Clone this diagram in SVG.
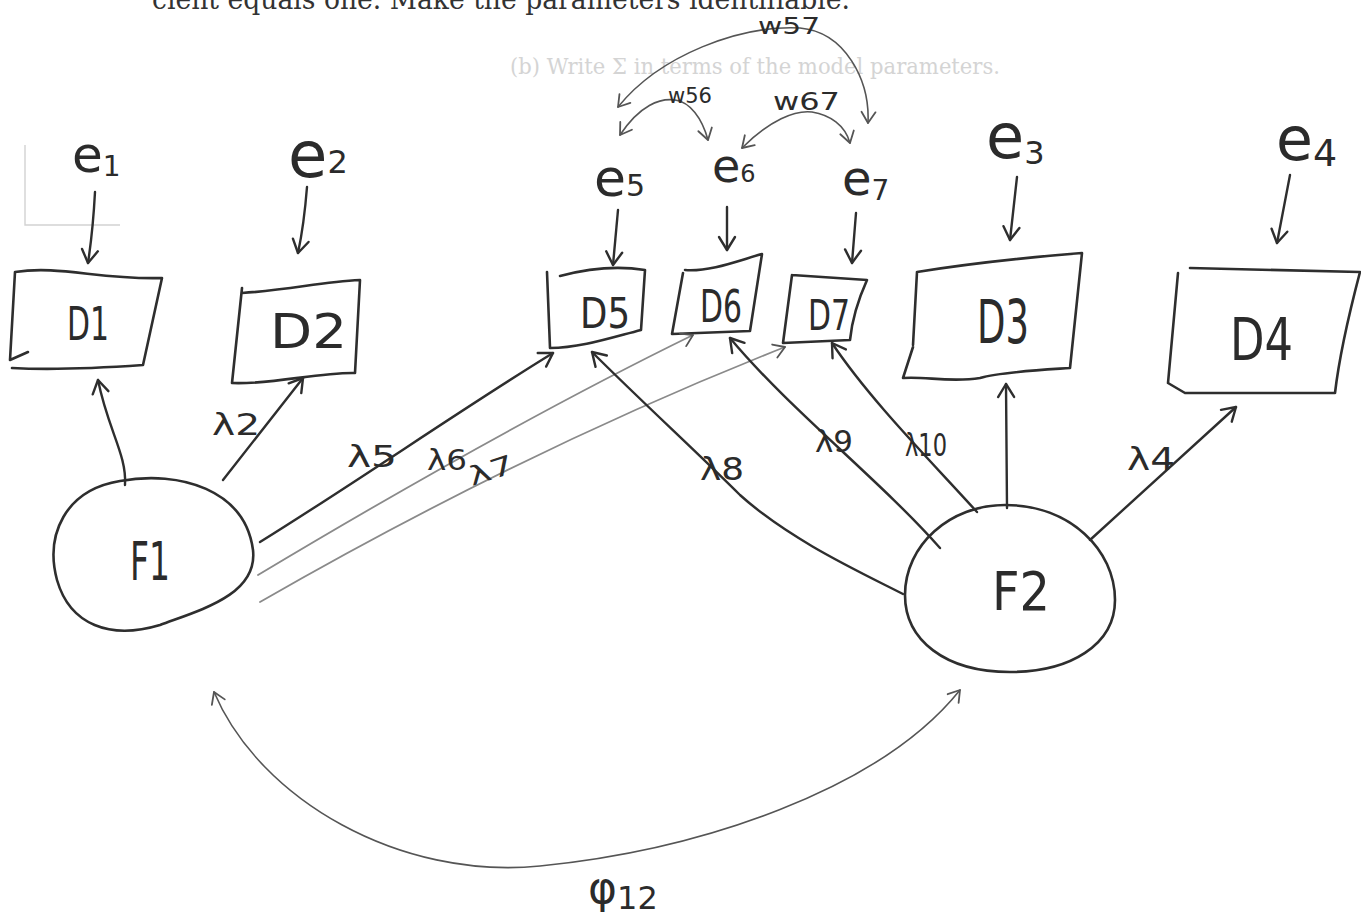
<svg xmlns="http://www.w3.org/2000/svg" width="1361" height="915" viewBox="0 0 1361 915">
<style>
.hw{font-family:"DejaVu Sans","Liberation Sans",sans-serif;fill:#2b2b2b}
.pr{font-family:"DejaVu Serif","Liberation Serif",serif;fill:#333}
.ln{fill:none;stroke:#2e2e2e;stroke-width:2.4;stroke-linecap:round;stroke-linejoin:round}
.thin{fill:none;stroke:#555;stroke-width:1.6;stroke-linecap:round}
.pale{fill:none;stroke:#8a8a8a;stroke-width:1.8;stroke-linecap:round}
.box{fill:none;stroke:#2e2e2e;stroke-width:2.6;stroke-linejoin:round;stroke-linecap:round}
.faint{fill:none;stroke:#d2d2d2;stroke-width:1.4}
</style>
<defs>
<marker id="ah" viewBox="-16 -10 20 20" markerWidth="20" markerHeight="20" refX="0" refY="0" orient="auto-start-reverse" markerUnits="userSpaceOnUse">
<path d="M-13,-8 L0,0 L-13,8" fill="none" stroke="#2e2e2e" stroke-width="2.4" stroke-linecap="round" stroke-linejoin="round"/>
</marker>
<marker id="ahs" viewBox="-16 -10 20 20" markerWidth="20" markerHeight="20" refX="0" refY="0" orient="auto-start-reverse" markerUnits="userSpaceOnUse">
<path d="M-11,-7 L0,0 L-11,7" fill="none" stroke="#555" stroke-width="1.8" stroke-linecap="round" stroke-linejoin="round"/>
</marker>
</defs>
<rect width="1361" height="915" fill="#ffffff"/>

<text class="pr" x="152" y="9" font-size="28" textLength="698" lengthAdjust="spacingAndGlyphs">cient equals one.  Make the parameters identifiable.</text>
<text x="510" y="74" font-size="22" fill="#d4d4d4" font-family="DejaVu Serif, serif" textLength="490" lengthAdjust="spacingAndGlyphs">(b)  Write Σ in terms of the model parameters.</text>
<path class="faint" d="M25,145 L25,225 L120,225"/>

<g id="e1"><text class="hw" x="72" y="172" font-size="50">e<tspan font-size="28" dy="4">1</tspan></text></g>
<g id="e2"><text class="hw" x="288" y="177" font-size="64">e<tspan font-size="32" dy="-4">2</tspan></text></g>
<g id="e5"><text class="hw" x="594" y="196" font-size="52">e<tspan font-size="30">5</tspan></text></g>
<g id="e6"><text class="hw" x="712" y="182" font-size="46">e<tspan font-size="24">6</tspan></text></g>
<g id="e7"><text class="hw" x="842" y="195" font-size="48">e<tspan font-size="28" dy="5">7</tspan></text></g>
<g id="e3"><text class="hw" x="986" y="158" font-size="62">e<tspan font-size="32" dy="6">3</tspan></text></g>
<g id="e4"><text class="hw" x="1276" y="160" font-size="60">e<tspan font-size="38" dy="6">4</tspan></text></g>

<g id="D1"><path class="box" d="M15,272 C60,265 100,280 162,278 L143,365 C100,368 50,370 12,368 M15,272 L10,360 L28,352"/><text class="hw" x="67" y="340" font-size="46" textLength="42" lengthAdjust="spacingAndGlyphs">D1</text></g>
<g id="D2"><path class="box" d="M242,293 C290,290 320,282 360,280 L355,373 C320,372 270,385 232,383 L242,288"/><text class="hw" x="270" y="348" font-size="48" textLength="77" lengthAdjust="spacingAndGlyphs">D2</text></g>
<g id="D5"><path class="box" d="M560,276 C590,268 620,266 645,270 L641,330 C610,338 580,348 550,348 L547,272"/><text class="hw" x="580" y="328" font-size="42" textLength="50" lengthAdjust="spacingAndGlyphs">D5</text></g>
<g id="D6"><path class="box" d="M685,270 C710,272 740,260 762,254 L750,331 L672,334 L683,273"/><text class="hw" x="700" y="322" font-size="44" textLength="42" lengthAdjust="spacingAndGlyphs">D6</text></g>
<g id="D7"><path class="box" d="M792,275 L867,280 C858,300 852,320 850,340 L783,343 L792,275"/><text class="hw" x="808" y="330" font-size="42" textLength="42" lengthAdjust="spacingAndGlyphs">D7</text></g>
<g id="D3"><path class="box" d="M917,272 C960,265 1020,258 1082,253 L1070,368 C1040,370 1000,372 980,378 C950,383 925,376 903,378 L913,347 M917,272 L913,345"/><text class="hw" x="977" y="343" font-size="60" textLength="52" lengthAdjust="spacingAndGlyphs">D3</text></g>
<g id="D4"><path class="box" d="M1190,268 L1360,272 C1350,310 1340,350 1335,393 L1185,393 L1168,383 L1178,273"/><text class="hw" x="1230" y="360" font-size="58" textLength="63" lengthAdjust="spacingAndGlyphs">D4</text></g>

<g id="F1"><path class="box" d="M120,481 C180,470 245,490 253,550 C258,595 200,610 160,625 C110,640 70,625 57,580 C45,535 65,490 120,481 Z" stroke-width="2.2"/><text class="hw" x="130" y="580" font-size="54" textLength="40" lengthAdjust="spacingAndGlyphs">F1</text></g>
<g id="F2"><path class="box" d="M1005,505 C1070,505 1115,550 1115,600 C1115,645 1070,672 1010,672 C945,672 905,640 905,595 C905,545 950,505 1005,505 Z" stroke-width="2.2"/><text class="hw" x="992" y="610" font-size="54" textLength="58" lengthAdjust="spacingAndGlyphs">F2</text></g>

<g id="connectors">
<path class="ln" marker-end="url(#ah)" d="M95,192 Q93,230 88,263"/>
<path class="ln" marker-end="url(#ah)" d="M307,187 Q304,225 298,253"/>
<path class="ln" marker-end="url(#ah)" d="M618,210 L613,265"/>
<path class="ln" marker-end="url(#ah)" d="M727,207 L727,250"/>
<path class="ln" marker-end="url(#ah)" d="M856,213 L852,263"/>
<path class="ln" marker-end="url(#ah)" d="M1017,177 L1010,240"/>
<path class="ln" marker-end="url(#ah)" d="M1290,175 L1277,243"/>
<path class="ln" marker-end="url(#ah)" d="M125,485 C127,455 108,430 98,380"/>
<path class="ln" marker-end="url(#ah)" d="M223,480 L303,378"/>
<path class="ln" marker-end="url(#ah)" d="M260,542 C360,480 460,410 553,353"/>
<path class="pale" marker-end="url(#ahs)" d="M258,575 C400,490 560,400 693,335"/>
<path class="pale" marker-end="url(#ahs)" d="M260,602 C420,510 600,420 785,347"/>
<path class="ln" marker-end="url(#ah)" d="M903,594 C860,572 790,540 740,495 C700,455 640,400 592,352"/>
<path class="ln" marker-end="url(#ah)" d="M940,548 C880,480 790,410 730,338"/>
<path class="ln" marker-end="url(#ah)" d="M977,512 C930,460 870,400 832,343"/>
<path class="ln" marker-end="url(#ah)" d="M1007,508 L1006,384"/>
<path class="ln" marker-end="url(#ah)" d="M1090,540 L1236,407"/>
<path class="thin" marker-start="url(#ahs)" marker-end="url(#ahs)" d="M620,135 C640,105 660,98 675,100 C690,102 702,118 708,140"/>
<path class="thin" marker-start="url(#ahs)" marker-end="url(#ahs)" d="M742,148 C770,120 795,110 812,112 C830,115 845,125 850,143"/>
<path class="thin" marker-start="url(#ahs)" marker-end="url(#ahs)" d="M618,107 C660,55 740,25 800,28 C845,32 870,80 868,123"/>
<path class="thin" marker-start="url(#ahs)" marker-end="url(#ahs)" d="M214,692 C260,800 400,880 540,866 C700,850 880,790 960,690"/>
</g>

<g id="labels">
<text class="hw" x="212" y="435" font-size="30" textLength="48" lengthAdjust="spacingAndGlyphs">λ2</text>
<text class="hw" x="347" y="467" font-size="30" textLength="50" lengthAdjust="spacingAndGlyphs">λ5</text>
<text class="hw" x="427" y="470" font-size="28" textLength="40" lengthAdjust="spacingAndGlyphs">λ6</text>
<text class="hw" x="472" y="486" font-size="26" textLength="46" lengthAdjust="spacingAndGlyphs" transform="rotate(-18 472 486)">λ7</text>
<text class="hw" x="700" y="480" font-size="32" textLength="44" lengthAdjust="spacingAndGlyphs">λ8</text>
<text class="hw" x="815" y="452" font-size="30" textLength="38" lengthAdjust="spacingAndGlyphs">λ9</text>
<text class="hw" x="905" y="456" font-size="32" textLength="42" lengthAdjust="spacingAndGlyphs">λ10</text>
<text class="hw" x="1127" y="470" font-size="32" textLength="48" lengthAdjust="spacingAndGlyphs">λ4</text>
<text class="hw" x="668" y="103" font-size="22" textLength="44" lengthAdjust="spacingAndGlyphs">w56</text>
<text class="hw" x="773" y="110" font-size="24" textLength="67" lengthAdjust="spacingAndGlyphs">w67</text>
<text class="hw" x="758" y="34" font-size="23" textLength="62" lengthAdjust="spacingAndGlyphs">w57</text>
<text class="hw" x="588" y="903" font-size="44">φ<tspan font-size="32" dy="6">12</tspan></text>
</g>
</svg>
